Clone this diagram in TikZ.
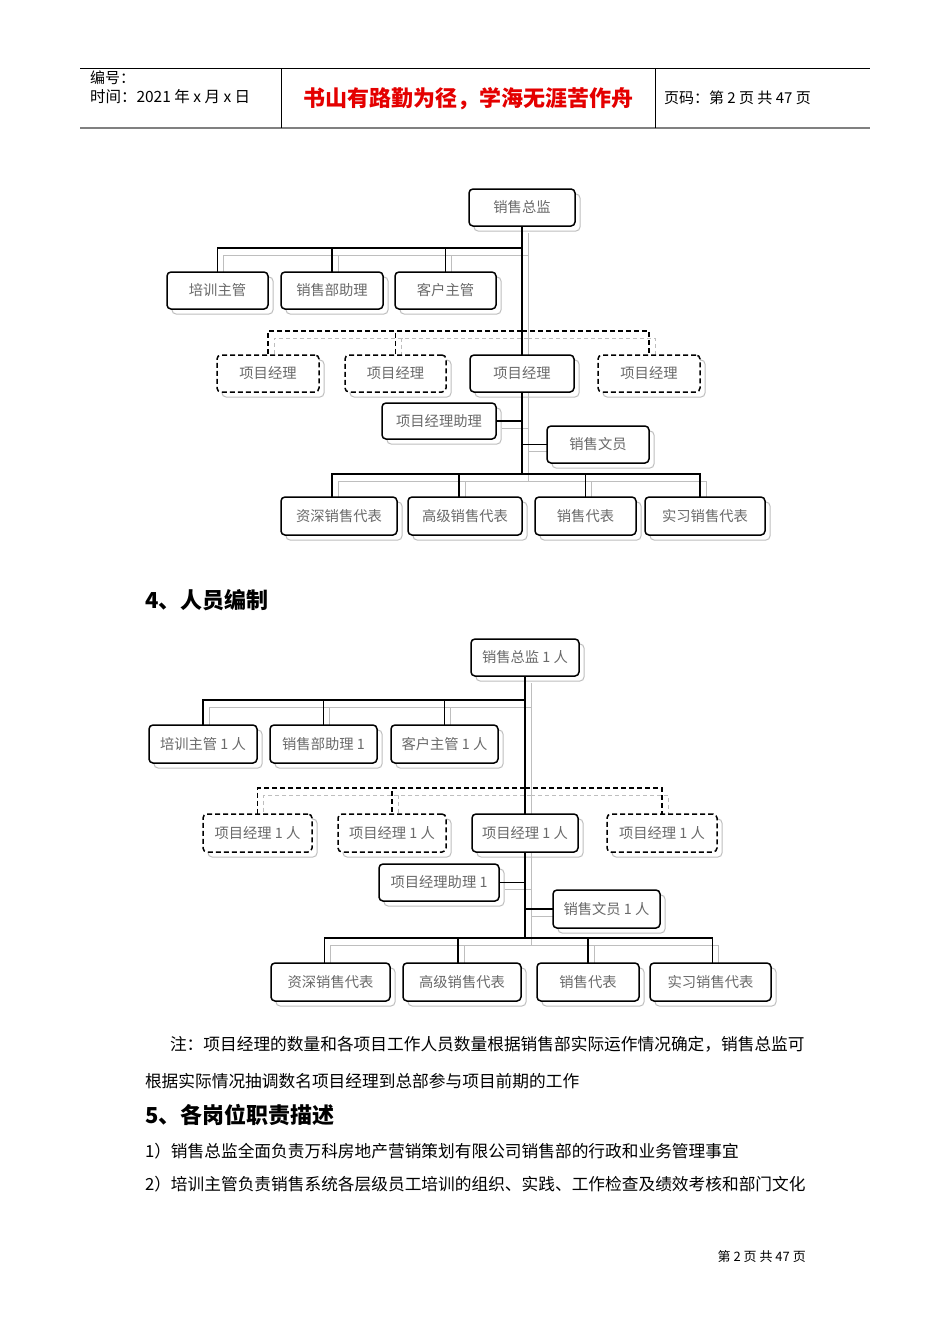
\documentclass[tikz,border=0pt]{standalone}
\usepackage{fontspec}
\setmainfont{Noto Sans CJK SC}
\pgfdeclarelayer{shd}
\pgfdeclarelayer{bg}
\pgfsetlayers{shd,bg,main}
\definecolor{boxtxt}{RGB}{105,105,105}
\definecolor{shdline}{RGB}{190,190,190}
\definecolor{hdred}{RGB}{228,0,0}
\tikzset{
  orgbox/.style={draw=black, line width=1.5pt, rounded corners=4pt, fill=white,
    inner sep=0pt, outer sep=0pt, text=boxtxt, font=\fontsize{14.3}{16}\selectfont},
  solidbox/.style={orgbox},
  dashbox/.style={orgbox, dash pattern=on 5pt off 3pt},
  bshadow/.style={draw=shdline, line width=1pt, rounded corners=4pt},
  cn/.style={draw=black, line width=1.5pt},
  dcn/.style={draw=black, line width=1.5pt, dash pattern=on 5pt off 3pt},
  shadowconn/.style={transform canvas={xshift=6pt,yshift=-7pt},
    cn/.style={draw=shdline, line width=1pt},
    dcn/.style={draw=shdline, line width=1pt, dash pattern=on 4pt off 3pt}},
  txt/.style={anchor=west, inner sep=0pt, outer sep=0pt},
}
\newcommand\obx[7]{%
  \node[#6, minimum width={(#4-#2)*1pt}, minimum height={(#5-#3)*1pt}] (#1) at ({(#2+#4)/2},{(#3+#5)/2}) {#7};
  \begin{pgfonlayer}{shd}
    \draw[bshadow] ([shift={(5,5)}]#1.north west) rectangle ([shift={(5,5)}]#1.south east);
  \end{pgfonlayer}}
\newcommand\connsA{%
  \draw[cn] (zjA.south) -- (busA3);
  \draw[cn] (busA1) -| (pxA.north);
  \draw[cn] (busA1) -| (zlA.north);
  \draw[cn] (busA1) -| (khA.north);
  \draw[dcn] (busA2) -| (pm1A.north);
  \draw[dcn] (busA2) -| (pm2A.north);
  \draw[dcn] (busA2) -| (pm4A.north);
  \draw[cn] (zhA.east) -- (zhA.east -| busA1);
  \draw[cn] (wyA.west) -- (wyA.west -| busA1);
  \draw[cn] (busA3) -| ([xshift=-7pt]d1A.north);
  \draw[cn] (busA3) -| ([xshift=-6pt]d2A.north);
  \draw[cn] (busA3) -| (d3A.north);
  \draw[cn] (busA3) -| ([xshift=-5pt]d4A.north);
}
\newcommand\connsB{%
  \draw[cn] (zjB.south) -- (busB3);
  \draw[cn] (busB1) -| (pxB.north);
  \draw[cn] (busB1) -| (zlB.north);
  \draw[cn] (busB1) -| (khB.north);
  \draw[dcn] (busB2) -| (pm1B.north);
  \draw[dcn] (busB2) -| (pm2B.north);
  \draw[dcn] (busB2) -| (pm4B.north);
  \draw[cn] (zhB.east) -- (zhB.east -| busB1);
  \draw[cn] (wyB.west) -- (wyB.west -| busB1);
  \draw[cn] (busB3) -| ([xshift=-6pt]d1B.north);
  \draw[cn] (busB3) -| ([xshift=-4pt]d2B.north);
  \draw[cn] (busB3) -| (d3B.north);
  \draw[cn] (busB3) -| ([xshift=2pt]d4B.north);
}
\begin{document}
\begin{tikzpicture}[x=1pt,y=-1pt]
\useasboundingbox (0,0) rectangle (950,1344);
\begin{pgfonlayer}{shd}
\fill[white] (0,0) rectangle (950,1344);
\end{pgfonlayer}

% ---------- header ----------
\draw[line width=0.8pt] (80,68) -- (870,68);
\draw[line width=2pt, gray] (80,128) -- (870,128);
\draw[line width=0.8pt] (281,68) -- (281,128);
\draw[line width=0.8pt] (655,68) -- (655,128);
\node[txt, font=\fontsize{15}{17}\selectfont] (bh) at (90,78) {编号：};
\node[txt, font=\fontsize{15.5}{17}\selectfont] (sj) at (90,97) {时间：2021 年 x 月 x 日};
\node[font=\fontsize{22}{24}\selectfont\bfseries, text=hdred, inner sep=0pt] (motto) at (468,99) {书山有路勤为径，学海无涯苦作舟};
\node[txt, font=\fontsize{15}{17}\selectfont] (ym) at (664,98) {页码：第 2 页 共 47 页};

% ---------- chart 1 ----------
\coordinate (busA1) at (522,248);
\coordinate (busA2) at (522,331);
\coordinate (busA3) at (522,474);
\obx{zjA}{469}{189}{575}{226}{solidbox}{销售总监}
\obx{pxA}{167}{272}{268}{309}{solidbox}{培训主管}
\obx{zlA}{281}{272}{383}{309}{solidbox}{销售部助理}
\obx{khA}{395}{272}{496}{309}{solidbox}{客户主管}
\obx{pm1A}{217}{355}{319}{392}{dashbox}{项目经理}
\obx{pm2A}{345}{355}{446}{392}{dashbox}{项目经理}
\obx{pm3A}{470}{355}{574}{392}{solidbox}{项目经理}
\obx{pm4A}{598}{355}{700}{392}{dashbox}{项目经理}
\obx{zhA}{382}{403}{496}{439}{solidbox}{项目经理助理}
\obx{wyA}{547}{426}{649}{463}{solidbox}{销售文员}
\obx{d1A}{281}{497}{397}{535}{solidbox}{资深销售代表}
\obx{d2A}{408}{497}{522}{535}{solidbox}{高级销售代表}
\obx{d3A}{535}{497}{636}{535}{solidbox}{销售代表}
\obx{d4A}{645}{497}{765}{535}{solidbox}{实习销售代表}
\begin{pgfonlayer}{shd}
  \begin{scope}[shadowconn]\connsA\end{scope}
\end{pgfonlayer}
\begin{pgfonlayer}{bg}\connsA\end{pgfonlayer}

\node[txt, font=\fontsize{22}{24}\selectfont\bfseries] (h4) at (145,600) {4、人员编制};

% ---------- chart 2 ----------
\coordinate (busB1) at (525,700);
\coordinate (busB2) at (525,788);
\coordinate (busB3) at (525,938);
\obx{zjB}{471}{639}{579}{676}{solidbox}{销售总监 1 人}
\obx{pxB}{149}{725}{257}{763}{solidbox}{培训主管 1 人}
\obx{zlB}{270}{725}{377}{763}{solidbox}{销售部助理 1}
\obx{khB}{391}{725}{498}{763}{solidbox}{客户主管 1 人}
\obx{pm1B}{203}{814}{312}{852}{dashbox}{项目经理 1 人}
\obx{pm2B}{338}{814}{446}{852}{dashbox}{项目经理 1 人}
\obx{pm3B}{472}{814}{578}{852}{solidbox}{项目经理 1 人}
\obx{pm4B}{607}{814}{717}{852}{dashbox}{项目经理 1 人}
\obx{zhB}{379}{864}{499}{901}{solidbox}{项目经理助理 1}
\obx{wyB}{553}{890}{660}{928}{solidbox}{销售文员 1 人}
\obx{d1B}{271}{963}{390}{1001}{solidbox}{资深销售代表}
\obx{d2B}{403}{963}{521}{1001}{solidbox}{高级销售代表}
\obx{d3B}{537}{963}{639}{1001}{solidbox}{销售代表}
\obx{d4B}{650}{963}{771}{1001}{solidbox}{实习销售代表}
\begin{pgfonlayer}{shd}
  \begin{scope}[shadowconn]\connsB\end{scope}
\end{pgfonlayer}
\begin{pgfonlayer}{bg}\connsB\end{pgfonlayer}

% ---------- text ----------
\node[txt, font=\fontsize{16.7}{18}\selectfont] (n1) at (170,1044) {注：项目经理的数量和各项目工作人员数量根据销售部实际运作情况确定，销售总监可};
\node[txt, font=\fontsize{16.7}{18}\selectfont] (n2) at (145,1081) {根据实际情况抽调数名项目经理到总部参与项目前期的工作};
\node[txt, font=\fontsize{22}{24}\selectfont\bfseries] (h5) at (145,1115) {5、各岗位职责描述};
\node[txt, font=\fontsize{16.7}{18}\selectfont] (p1) at (145,1151) {1）销售总监全面负责万科房地产营销策划有限公司销售部的行政和业务管理事宜};
\node[txt, font=\fontsize{16.7}{18}\selectfont] (p2) at (145,1184) {2）培训主管负责销售系统各层级员工培训的组织、实践、工作检查及绩效考核和部门文化};
\node[font=\fontsize{13}{15}\selectfont, anchor=east, inner sep=0pt] (ft) at (806,1257) {第 2 页 共 47 页};
\end{tikzpicture}
\end{document}
